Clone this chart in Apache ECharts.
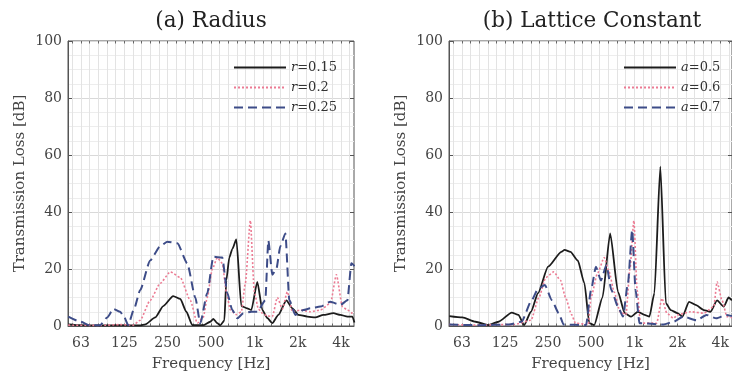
<!DOCTYPE html>
<html><head><meta charset="utf-8">
<script src="https://cdn.jsdelivr.net/npm/echarts@6/dist/echarts.min.js"></script>
<style>html,body{margin:0;padding:0;background:#fff}#c{width:732px;height:381px}</style>
</head><body><div id="c"></div>
<script>
// ---- tick labels (octave bands, 62.5·2^n Hz) ----
const TICK_LABELS = ['63', '125', '250', '500', '1k', '2k', '4k'];
const Y_TICKS_MAX = 100;

// ---- (a) Radius ----
const r015Freq = [51, 62, 85, 117, 161, 175, 205, 233, 273, 306, 337, 371, 442, 494, 519, 553, 580, 619, 639, 670, 703, 750, 812, 880, 953, 1049, 1137, 1231, 1334, 1469, 1669, 1838, 2023, 2336, 2655, 3018, 3542, 3962, 4431, 4801, 4957];
const r015TL   = [0.6, 0.3, 0.2, 0.3, 0.2, 0.6, 3, 7, 10.5, 9.5, 5, 0.3, 0.3, 1.5, 2.5, 1, 0.2, 2, 16, 24, 27, 30.4, 7, 6.3, 5.6, 15.5, 5.6, 2.8, 1, 3.9, 9, 6.2, 3.9, 3.3, 3, 3.9, 4.5, 3.9, 3.3, 3.3, 1.2];

const r02Freq = [51, 85, 117, 144, 161, 189, 222, 261, 306, 359, 402, 442, 471, 511, 553, 599, 639, 681, 750, 812, 866, 938, 1000, 1066, 1137, 1231, 1334, 1445, 1566, 1696, 1838, 2088, 2451, 2876, 3376, 3716, 4090, 4431, 4801, 4957];
const r02TL   = [0.3, 0.2, 0.5, 0.3, 2, 9, 15, 19, 17, 9, 1, 3, 10, 20, 24, 22, 12, 5.6, 4, 5, 15, 37, 12, 6, 4.5, 3.5, 3.3, 10, 6, 12, 5, 5.6, 5, 5.6, 8, 18, 6.8, 5.6, 4.5, 4];

const r025Freq = [51, 62, 72, 85, 95, 105, 117, 125, 133, 146, 161, 189, 222, 248, 292, 342, 389, 421, 471, 519, 599, 649, 703, 762, 839, 953, 1049, 1192, 1251, 1334, 1422, 1516, 1643, 1751, 1928, 2191, 2451, 2876, 3376, 3962, 4431, 4725, 4957];
const r025TL   = [3.3, 1.5, 0.2, 0.3, 3, 6, 5, 3, 0.3, 6, 12.6, 23, 28, 29.6, 29, 22, 10, 1, 11.5, 24.3, 24, 11.5, 5.6, 2.7, 4.5, 5, 5, 9, 30, 18, 20, 28, 32.5, 9, 3.9, 5.6, 6.2, 6.8, 8.5, 7.4, 9, 22, 21];

// ---- (b) Lattice Constant ----
const a05Freq = [51, 63, 78, 96, 113, 140, 156, 171, 191, 214, 252, 312, 329, 362, 407, 453, 490, 531, 607, 687, 780, 869, 965, 1075, 1196, 1296, 1404, 1546, 1691, 1831, 2039, 2209, 2459, 2733, 3126, 3475, 3868, 4306, 4664, 4918];
const a05TL   = [3.5, 3, 1.5, 0.3, 1.5, 4.7, 3.9, 0.3, 5, 11.5, 20.8, 26, 26.7, 26, 23, 15, 1, 0.3, 10, 32.5, 12, 4.5, 3.3, 5, 3.9, 3.3, 11.5, 55.9, 8, 5.6, 4.5, 3.3, 8.5, 7.4, 5.6, 5, 9, 6.8, 10, 9];

const a06Freq = [51, 83, 114, 145, 191, 217, 243, 276, 308, 334, 368, 392, 483, 504, 560, 624, 676, 732, 806, 887, 946, 1008, 1063, 1122, 1457, 1586, 1718, 1912, 2039, 2523, 3126, 3669, 3868, 4190, 4540, 4918];
const a06TL   = [0.5, 0.3, 0.5, 0.5, 2, 10, 17, 19, 16, 10, 4, 1, 0.5, 10, 18.5, 24, 19, 12, 5, 4, 20, 37, 12.6, 1, 1, 9.7, 4.5, 2.7, 3.9, 5, 4.5, 6.8, 15.5, 9, 3.3, 3];

const a07Freq = [51, 83, 134, 164, 193, 214, 239, 268, 299, 324, 465, 504, 546, 592, 647, 701, 780, 845, 916, 981, 1036, 1104, 1630, 1912, 2244, 2777, 3259, 3825, 4489, 4918];
const a07TL   = [0.5, 0.3, 0.5, 1.5, 9, 13, 14.4, 9, 4.5, 0.5, 0.3, 12.6, 20.8, 16, 21.4, 12.6, 6.8, 3.3, 15, 33.7, 12.6, 1, 0.5, 1.5, 3.3, 2, 3.9, 2.7, 3.9, 3.5];

// ---- helpers ----
const FONT = 'DejaVu Serif';
const toOct = f => Math.log2(f / 1000);
const pts = (fr, v) => fr.map((f, i) => [toOct(f), v[i]]);
const octLabel = v => { const k = Math.round(v); if (Math.abs(v - k) > 1e-6) return ''; return TICK_LABELS[k + 4] || ''; };

const OCT_MIN = -4.3, OCT_MAX = 2.3, GRID_MIN = -4.2, GRID_MAX = 2.2;
const GW = 286, GT = 41, GH = 285;
const lefts = [68, 449];
const ppo = GW / (OCT_MAX - OCT_MIN);

const grids = [], xAxes = [], yAxes = [];
lefts.forEach(l => grids.push({ left: l, top: GT, width: GW, height: GH, show: true, borderColor: '#555', borderWidth: 1 }));
lefts.forEach(l => grids.push({ left: l + (GRID_MIN - OCT_MIN) * ppo, top: GT, width: (GRID_MAX - GRID_MIN) * ppo, height: GH }));

const axisTxt = { fontFamily: FONT, fontSize: 14, color: '#444' };
[0, 1].forEach(i => xAxes.push({
  gridIndex: i, type: 'value', min: OCT_MIN, max: OCT_MAX,
  axisLine: { show: true, onZero: false, lineStyle: { color: '#555' } }, axisTick: { show: false }, axisLabel: { show: false }, splitLine: { show: false },
  name: 'Frequency [Hz]', nameLocation: 'middle', nameGap: 31,
  nameTextStyle: { fontFamily: FONT, fontSize: 15, color: '#444' }
}));
[2, 3].forEach(g => xAxes.push({
  gridIndex: g, type: 'value', min: GRID_MIN, max: GRID_MAX, interval: 0.2,
  axisLine: { show: false, onZero: false }, axisTick: { show: true, inside: true, length: 2.5, lineStyle: { color: '#666' } },
  axisLabel: Object.assign({ formatter: octLabel, margin: 10 }, axisTxt),
  splitLine: { show: true, lineStyle: { color: '#e3e3e3', width: 1 } }
}));
[2, 3].forEach(g => xAxes.push({
  gridIndex: g, type: 'value', position: 'top', min: GRID_MIN, max: GRID_MAX, interval: 0.2,
  axisLine: { show: false, onZero: false }, axisTick: { show: true, inside: true, length: 2.5, lineStyle: { color: '#666' } },
  axisLabel: { show: false }, splitLine: { show: false }
}));

[0, 1].forEach(i => yAxes.push({
  gridIndex: i, type: 'value', min: 0, max: Y_TICKS_MAX, interval: 20,
  axisLine: { show: true, onZero: false, lineStyle: { color: '#555' } },
  axisTick: { show: true, inside: true, length: 4, lineStyle: { color: '#555' } },
  axisLabel: Object.assign({ margin: 6 }, axisTxt),
  splitLine: { show: true, lineStyle: { color: '#d9d9d9' } },
  minorTick: { show: false, splitNumber: 4 },
  minorSplitLine: { show: true, lineStyle: { color: '#ededed' } },
  name: 'Transmission Loss [dB]', nameLocation: 'middle', nameGap: 40,
  nameTextStyle: { fontFamily: FONT, fontSize: 15, color: '#444' }
}));
[2, 3].forEach(g => yAxes.push({ gridIndex: g, type: 'value', min: 0, max: Y_TICKS_MAX, show: false }));
[0, 1].forEach(i => yAxes.push({
  gridIndex: i, type: 'value', position: 'right', min: 0, max: Y_TICKS_MAX, interval: 20,
  axisLine: { show: false, onZero: false }, axisTick: { show: true, inside: true, length: 4, lineStyle: { color: '#555' } },
  axisLabel: { show: false }, splitLine: { show: false }
}));

const BLACK = '#1c1c1c', PINK = '#ec7b93', BLUE = '#3d4c88';
function mk(name, fr, v, gi, color, type, width) {
  return { name, type: 'line', xAxisIndex: gi, yAxisIndex: gi, data: pts(fr, v), symbol: 'none', showSymbol: false,
    smooth: 0.2, smoothMonotone: 'x',
    lineStyle: { color, type, width }, itemStyle: { color }, animation: false };
}
const series = [
  mk('r=0.15', r015Freq, r015TL, 0, BLACK, 'solid', 1.8),
  mk('r=0.2', r02Freq, r02TL, 0, PINK, [2, 2], 1.6),
  mk('r=0.25', r025Freq, r025TL, 0, BLUE, [9, 5], 2),
  mk('a=0.5', a05Freq, a05TL, 1, BLACK, 'solid', 1.8),
  mk('a=0.6', a06Freq, a06TL, 1, PINK, [2, 2], 1.6),
  mk('a=0.7', a07Freq, a07TL, 1, BLUE, [9, 5], 2)
];

const legTxt = { fontFamily: FONT, fontSize: 13, color: '#333', rich: { i: { fontFamily: FONT, fontSize: 13, color: '#333', fontStyle: 'italic' } } };
const legFmt = n => n.replace(/^([ra])/, '{i|$1}');
const mkLegend = (data, left) => ({ data, orient: 'vertical', left, top: 61, itemWidth: 52, itemHeight: 14, itemGap: 7, padding: 0,
  itemStyle: { opacity: 0, borderWidth: 0 }, textStyle: legTxt, formatter: legFmt, selectedMode: false });

const titleStyle = { fontFamily: FONT, fontSize: 21.5, fontWeight: 'normal', color: '#222' };
const chart = echarts.init(document.getElementById('c'), null, { renderer: 'canvas' });
chart.setOption({
  animation: false,
  backgroundColor: '#fff',
  title: [
    { text: '(a) Radius', left: 211, top: 10, textAlign: 'center', padding: 0, textStyle: titleStyle },
    { text: '(b) Lattice Constant', left: 592, top: 10, textAlign: 'center', padding: 0, textStyle: titleStyle }
  ],
  legend: [mkLegend(['r=0.15', 'r=0.2', 'r=0.25'], 233), mkLegend(['a=0.5', 'a=0.6', 'a=0.7'], 623)],
  grid: grids, xAxis: xAxes, yAxis: yAxes, series
});
</script></body></html>
